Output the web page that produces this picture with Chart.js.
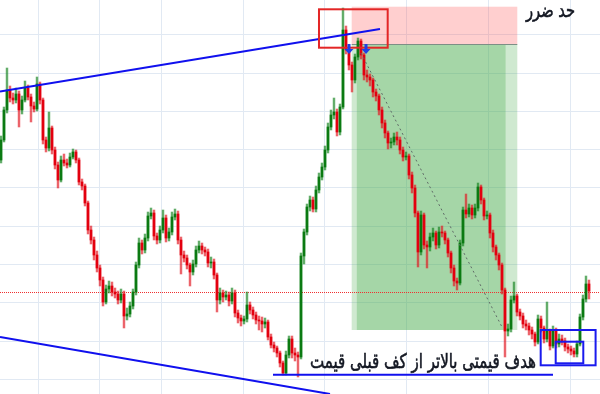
<!DOCTYPE html>
<html>
<head>
<meta charset="utf-8">
<script src="https://cdn.jsdelivr.net/npm/chart.js@4.4.1/dist/chart.umd.min.js"></script>
<style>
  html, body { margin: 0; padding: 0; background: #fff; }
  #wrap { width: 600px; height: 394px; }
</style>
</head>
<body>
<div id="wrap"><canvas id="chart" width="600" height="394"></canvas></div>
<script>
// candle values (price units), one entry per bar
const opens = [
  234,254,284,304,296,294,300,284,294,306,297,288,285,310,294,254,246,266,244,229,
  214,234,231,229,237,242,234,212,208,191,164,154,139,126,114,92,105,108,102,100,
  94,100,78,80,88,102,129,151,144,156,178,181,158,154,164,176,156,162,177,180,
  154,139,136,129,122,130,144,148,144,142,131,132,119,94,101,97,99,93,101,81,
  76,73,75,89,84,79,74,73,70,72,57,49,46,41,31,21,39,55,41,39,
  37,138,162,187,194,185,204,217,227,244,267,279,282,262,287,364,344,329,314,337,
  353,339,319,317,314,302,298,284,271,261,251,252,257,254,244,237,238,219,206,181,
  142,179,149,147,157,161,149,162,161,154,141,126,113,111,151,184,180,186,179,186,
  207,194,178,179,161,147,139,129,104,63,65,94,98,82,78,70,68,64,60,52,
  75,66,55,63,48,63,50,55,53,47,45,43,40,50,77,95,110
];
const closes = [
  254,284,304,296,294,300,284,294,306,297,288,285,310,294,254,246,266,244,229,214,
  234,231,229,237,242,234,212,208,191,164,154,139,126,114,92,105,108,102,100,94,
  100,78,80,88,102,129,151,144,156,178,181,158,154,164,176,156,162,177,180,154,
  139,136,129,122,130,144,148,144,142,131,132,119,94,101,97,99,93,101,81,76,
  73,75,89,84,79,74,73,70,72,57,49,46,41,31,21,39,55,41,39,37,
  138,162,187,194,185,204,217,227,244,267,279,282,262,287,364,344,329,314,337,353,
  339,319,317,314,302,298,284,271,261,251,252,257,254,244,237,238,219,206,181,142,
  179,149,147,157,161,149,162,161,154,141,126,113,111,151,184,180,186,179,186,207,
  194,178,179,161,147,139,129,104,63,65,94,98,82,78,70,68,64,60,52,75,
  66,55,63,48,63,50,55,53,47,45,43,40,50,77,95,110,103
];
const highs = [
  258,287,326,308,301,306,303,298,313,309,300,292,317,312,296,257,282,268,247,232,
  238,240,235,241,245,244,236,215,210,193,168,157,143,129,117,109,113,112,106,103,
  105,103,86,92,105,132,156,154,160,182,186,184,161,168,184,179,166,182,185,183,
  157,143,139,131,134,148,153,151,147,145,137,135,121,106,104,103,102,106,104,84,
  79,78,102,92,87,82,78,77,76,74,60,52,48,43,33,43,58,58,46,42,
  141,165,190,198,197,208,221,231,248,271,284,296,285,290,386,368,347,332,340,356,
  355,341,324,320,316,305,300,287,274,263,256,261,262,257,247,242,240,222,209,183,
  183,181,153,161,166,163,167,168,163,156,143,129,116,154,187,200,190,189,190,211,
  209,196,183,181,164,149,141,131,106,70,98,112,100,85,81,74,71,67,62,79,
  78,68,92,65,68,66,60,59,56,50,48,46,53,80,99,118,114
];
const lows = [
  231,252,281,292,290,291,267,280,292,294,272,282,283,290,250,242,243,240,225,206,
  212,228,226,227,235,231,209,204,188,160,150,134,122,108,88,90,101,98,96,90,
  91,66,74,77,85,99,126,140,141,153,175,154,150,151,161,152,153,159,174,150,
  120,132,125,108,119,127,141,140,138,127,126,115,82,90,92,94,88,90,77,71,
  68,70,72,80,75,70,64,62,66,54,46,42,37,27,19,19,36,36,33,17,
  35,130,159,183,182,182,201,214,224,241,264,275,258,259,285,340,324,302,311,334,
  335,314,312,308,297,293,279,266,256,245,246,249,249,240,233,234,215,201,177,127,
  139,145,126,143,153,145,146,157,150,137,121,108,104,109,148,176,177,175,176,183,
  190,174,175,156,142,134,124,100,37,58,62,91,78,74,66,64,59,55,48,50,
  62,51,52,44,46,46,47,49,43,41,39,37,37,48,74,92,95
];

// grid positions (bar index / price)
const gridBars = [12.33, 32.67, 53.33, 80.67, 107.67, 135, 162.33, 189.67];
const gridPrices = [359.7, 321.4, 283.1, 244.8, 206.5, 168.2, 129.9, 91.6, 53.3, 15];

const stopText = "حد ضرر";
const targetText = "هدف قیمتی بالاتر از کف قبلی قیمت";

const UP = "#0b7a12";
const DOWN = "#e3000f";
const UP_WICK = "rgba(20,130,30,0.7)";
const DOWN_WICK = "rgba(225,20,30,0.7)";
const UP_SHADE = "rgba(60,160,70,0.22)";
const DOWN_SHADE = "rgba(235,60,70,0.22)";

const bars = opens.map((_, i) => i);
const isUp = i => closes[i] >= opens[i];

const overlay = {
  id: "overlay",
  beforeDatasetsDraw(chart) {
    const { ctx, scales: { x, y }, chartArea: a } = chart;
    const px = v => x.getPixelForValue(v);
    const py = v => y.getPixelForValue(v);
    ctx.save();

    // grid
    ctx.strokeStyle = "#e1e9f3";
    ctx.lineWidth = 1;
    ctx.beginPath();
    gridBars.forEach(b => {
      const p = Math.round(px(b)) + 0.5;
      ctx.moveTo(p, a.top); ctx.lineTo(p, a.bottom);
    });
    gridPrices.forEach(v => {
      const p = Math.round(py(v)) + 0.5;
      ctx.moveTo(a.left, p); ctx.lineTo(a.right, p);
    });
    ctx.stroke();

    // stop zone
    ctx.fillStyle = "rgba(255,82,82,0.28)";
    ctx.fillRect(px(116.9), py(387.3), px(172.1) - px(116.9), py(350) - py(387.3));
    // target zone
    ctx.fillStyle = "rgba(76,175,80,0.27)";
    ctx.fillRect(px(116.9), py(350), px(172.1) - px(116.9), py(64) - py(350));
    ctx.fillStyle = "rgba(76,175,80,0.32)";
    ctx.fillRect(px(118.6), py(350), px(168.2) - px(118.6), py(64) - py(350));
    // entry line
    ctx.strokeStyle = "#7d8f86";
    ctx.beginPath();
    ctx.moveTo(px(116.9), Math.round(py(350)) + 0.5);
    ctx.lineTo(px(172.1), Math.round(py(350)) + 0.5);
    ctx.stroke();

    // red dotted level
    ctx.strokeStyle = "#f03030";
    ctx.setLineDash([1, 1]);
    ctx.beginPath();
    ctx.moveTo(a.left, Math.round(py(101.7)) + 0.5);
    ctx.lineTo(a.right, Math.round(py(101.7)) + 0.5);
    ctx.stroke();
    ctx.restore();
  },
  afterDatasetsDraw(chart) {
    const { ctx, scales: { x, y } } = chart;
    const px = v => x.getPixelForValue(v);
    const py = v => y.getPixelForValue(v);
    ctx.save();

    const line = (b1, p1, b2, p2) => {
      ctx.beginPath();
      ctx.moveTo(px(b1), py(p1));
      ctx.lineTo(px(b2), py(p2));
      ctx.stroke();
    };
    const rect = (b1, p1, b2, p2) => {
      ctx.strokeRect(px(b1), py(p1), px(b2) - px(b1), py(p2) - py(p1));
    };

    // trend lines
    ctx.strokeStyle = "#1010ee";
    ctx.lineWidth = 2;
    line(-0.33, 302.5, 126.33, 365);
    line(-0.33, 57, 109.67, 0);
    line(90.67, 19.3, 184, 19.3);

    // dashed projection
    ctx.strokeStyle = "#5f6a66";
    ctx.lineWidth = 1;
    ctx.setLineDash([2, 3]);
    line(120, 341, 167, 67);
    ctx.setLineDash([]);

    // boxes
    ctx.strokeStyle = "#e32626";
    ctx.lineWidth = 2;
    rect(106, 384.7, 128.9, 346.3);
    ctx.strokeStyle = "#1a1aee";
    rect(179.9, 64, 198.2, 28.7);
    rect(184.9, 52.3, 194.1, 30.7);

    // sell arrows
    ctx.fillStyle = "#1f3fe6";
    [116, 121.67].forEach(b => {
      const cx = px(b), top = py(350), tip = py(340);
      ctx.fillRect(cx - 1.5, top, 3, tip - top - 4);
      ctx.beginPath();
      ctx.moveTo(cx - 4.5, tip - 5);
      ctx.lineTo(cx + 4.5, tip - 5);
      ctx.lineTo(cx, tip);
      ctx.closePath();
      ctx.fill();
    });

    // labels
    ctx.fillStyle = "#131722";
    ctx.strokeStyle = "#131722";
    ctx.lineWidth = 0.6;
    ctx.textAlign = "right";
    ctx.textBaseline = "alphabetic";
    ctx.font = '20px "DejaVu Sans"';
    ctx.fillText(stopText, px(191.33), py(377), 49);
    ctx.strokeText(stopText, px(191.33), py(377), 49);
    ctx.fillText(targetText, px(178.33), py(26), 226);
    ctx.strokeText(targetText, px(178.33), py(26), 226);
    ctx.restore();
  }
};

new Chart(document.getElementById("chart"), {
  type: "bar",
  data: {
    datasets: [
      {
        data: bars.map(i => ({ x: i, y: [opens[i], closes[i]] })),
        backgroundColor: bars.map(i => isUp(i) ? UP : DOWN),
        barThickness: 2,
        grouped: false,
        order: 0
      },
      {
        data: bars.map(i => ({ x: i, y: [lows[i], highs[i]] })),
        backgroundColor: bars.map(i => isUp(i) ? UP_WICK : DOWN_WICK),
        barThickness: 1,
        grouped: false,
        order: 1
      },
      {
        data: bars.map(i => ({ x: i, y: [lows[i], highs[i]] })),
        backgroundColor: bars.map(i => isUp(i) ? UP_SHADE : DOWN_SHADE),
        barThickness: 3,
        grouped: false,
        order: 2
      }
    ]
  },
  options: {
    responsive: false,
    animation: false,
    events: [],
    layout: { padding: 0 },
    plugins: { legend: { display: false }, tooltip: { enabled: false } },
    scales: {
      x: { type: "linear", display: false, offset: false, min: -0.33, max: 199.67 },
      y: { display: false, min: 0, max: 394 }
    }
  },
  plugins: [overlay]
});
</script>
</body>
</html>
